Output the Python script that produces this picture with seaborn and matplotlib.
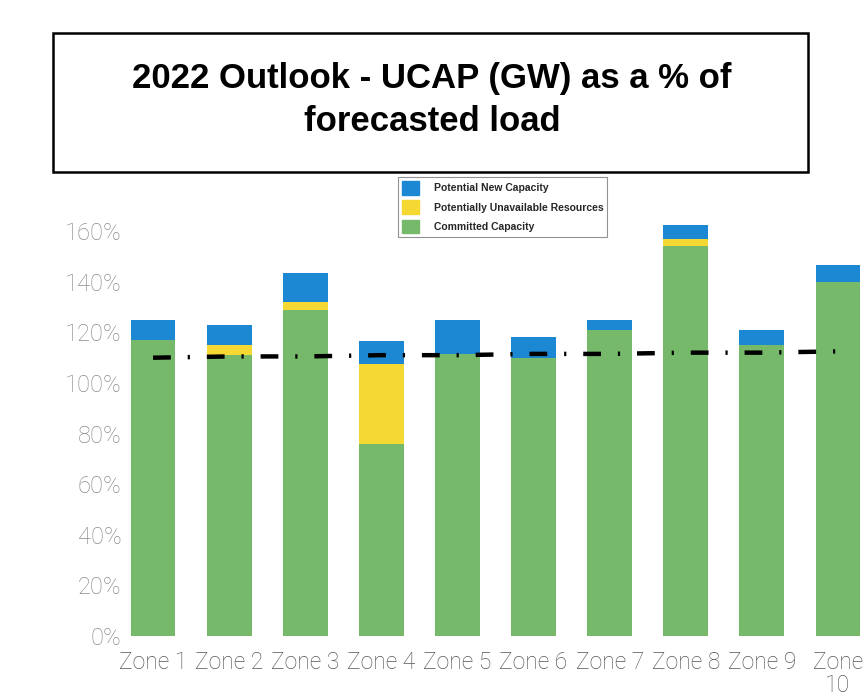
import numpy as np
import seaborn as sns
import pandas as pd
import matplotlib.pyplot as plt
from matplotlib.patches import Rectangle, Patch

zones = ["Zone 1", "Zone 2", "Zone 3", "Zone 4", "Zone 5",
         "Zone 6", "Zone 7", "Zone 8", "Zone 9", "Zone\n10"]
committed = [117, 111, 129, 76, 111.5, 110, 121, 154, 115, 140]
unavailable = [0, 4, 3, 31.5, 0, 0, 0, 3, 0, 0]
new_cap = [8, 8, 11.5, 9, 13.5, 8, 4, 5.5, 6, 6.5]
load_line = [110, 110.5, 110.5, 111, 111, 111.5, 111.5, 112, 112, 112.5]
yticks = [0, 20, 40, 60, 80, 100, 120, 140, 160]

green = "#76b96b"
yellow = "#f6d832"
blue = "#1c88d3"

sns.set_style("white")
plt.rcParams['font.family'] = ['Liberation Sans', 'DejaVu Sans']

df = pd.DataFrame({"zone": zones, "committed": committed,
                   "unavailable": unavailable, "new": new_cap})
df["base2"] = df["committed"] + df["unavailable"]

fig = plt.figure(figsize=(8.63, 6.96), dpi=100)
ax = fig.add_axes([118.8 / 863, 60 / 696, (876 - 118.8) / 863, 168 * 2.53 / 696])

bar_kw = dict(width=0.59, saturation=1, linewidth=0, ax=ax)
sns.barplot(data=df, x="zone", y="committed", color=green, **bar_kw)
sns.barplot(data=df, x="zone", y="unavailable", bottom=df["committed"],
            color=yellow, **bar_kw)
sns.barplot(data=df, x="zone", y="new", bottom=df["base2"], color=blue,
            **bar_kw)
sns.lineplot(x=np.arange(len(zones)), y=load_line, color="black", lw=3.2,
             ls=(0, (4, 3.8, 0.5, 3.8)), ax=ax)

ax.set_xlim(-0.45, 9.5)
ax.set_ylim(0, 168)
ax.set_yticks(yticks)
ax.set_yticklabels([f"{t}%" for t in yticks], color="#8a8a8a", fontsize=17,
                   family=['Roboto', 'DejaVu Sans'], fontweight='light')
ax.set_xticks(range(len(zones)))
ax.set_xticklabels(zones, color="#555555", fontsize=16.5,
                   family=['Roboto', 'DejaVu Sans'], fontweight='light',
                   linespacing=1.0)
ax.tick_params(axis='y', length=0, pad=-2)
ax.tick_params(axis='x', length=0, pad=11)
ax.set_xlabel("")
ax.set_ylabel("")
sns.despine(ax=ax, left=True, bottom=True)

# title box
fig.patches.append(Rectangle((53 / 863, 1 - 172 / 696), (808 - 53) / 863,
                             (172 - 33) / 696, transform=fig.transFigure,
                             fill=False, ec="black", lw=1.8))
fig.text(432 / 863, 1 - 100 / 696,
         "2022 Outlook - UCAP (GW) as a % of\nforecasted load",
         ha="center", va="center", fontsize=25, fontweight="bold",
         color="black", linespacing=1.35)

handles = [Patch(color=blue, label="Potential New Capacity"),
           Patch(color=yellow, label="Potentially Unavailable Resources"),
           Patch(color=green, label="Committed Capacity")]
leg = fig.legend(handles=handles, loc="upper left",
                 bbox_to_anchor=(393 / 863, 1 - 172 / 696),
                 prop={'weight': 'bold', 'size': 7.5}, frameon=True,
                 fancybox=False, edgecolor="#777777", handlelength=1.6,
                 handleheight=1.6, labelspacing=0.55, borderpad=0.4,
                 handletextpad=1.4)
leg.get_frame().set_linewidth(0.8)

fig.savefig("out.png", dpi=100)
